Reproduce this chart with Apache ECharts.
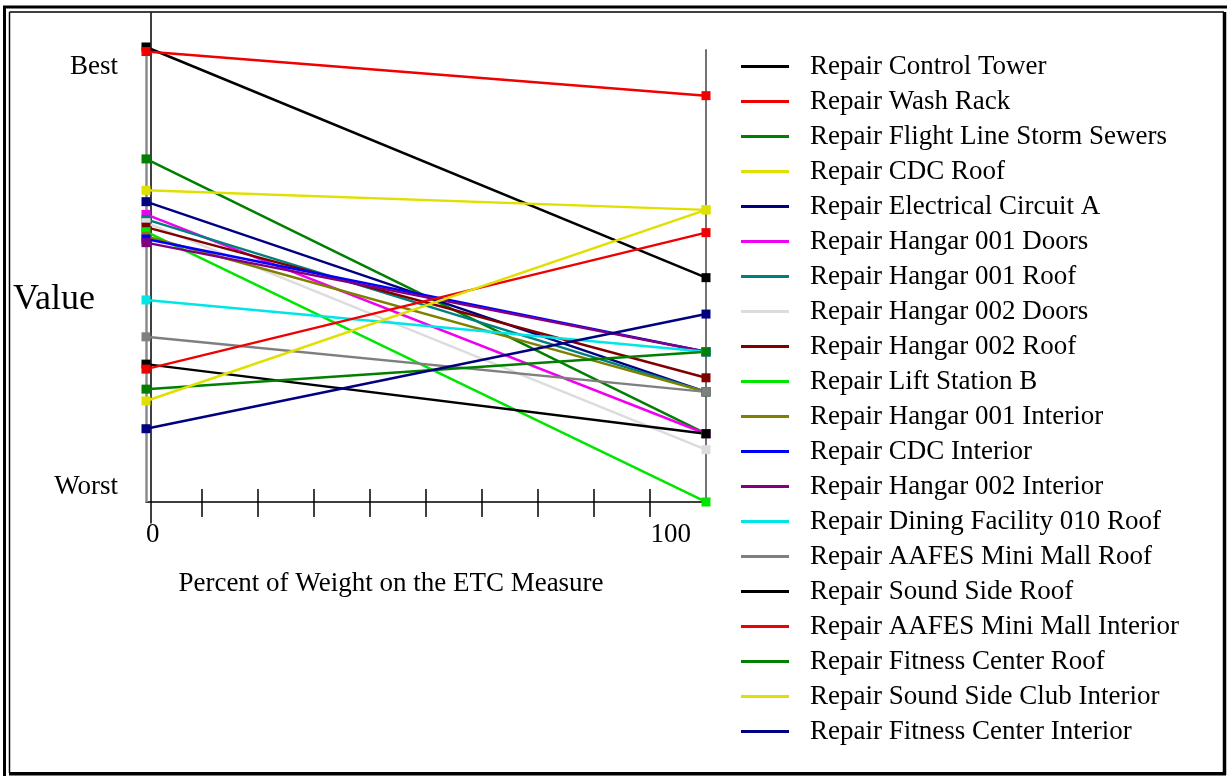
<!DOCTYPE html>
<html>
<head>
<meta charset="utf-8">
<script src="https://cdn.jsdelivr.net/npm/echarts@6/dist/echarts.min.js"></script>
<style>
html,body{margin:0;padding:0;background:#fff;}
#chart{width:1227px;height:776px;}
</style>
</head>
<body>
<div id="chart"></div>
<script>
// ---- data ----
const weights = [0, 100];
const alternatives = [
  'Repair Control Tower',
  'Repair Wash Rack',
  'Repair Flight Line Storm Sewers',
  'Repair CDC Roof',
  'Repair Electrical Circuit A',
  'Repair Hangar 001 Doors',
  'Repair Hangar 001 Roof',
  'Repair Hangar 002 Doors',
  'Repair Hangar 002 Roof',
  'Repair Lift Station B',
  'Repair Hangar 001 Interior',
  'Repair CDC Interior',
  'Repair Hangar 002 Interior',
  'Repair Dining Facility 010 Roof',
  'Repair AAFES Mini Mall Roof',
  'Repair Sound Side Roof',
  'Repair AAFES Mini Mall Interior',
  'Repair Fitness Center Roof',
  'Repair Sound Side Club Interior',
  'Repair Fitness Center Interior'
];
const valueAt0 = [1.000, 0.990, 0.754, 0.685, 0.660, 0.632, 0.621, 0.614, 0.604, 0.594,
                  0.584, 0.578, 0.570, 0.444, 0.363, 0.303, 0.292, 0.248, 0.222, 0.161];
const valueAt100 = [0.493, 0.893, 0.150, 0.642, 0.242, 0.150, 0.242, 0.115, 0.273, 0.000,
                    0.242, 0.330, 0.330, 0.330, 0.242, 0.150, 0.592, 0.330, 0.642, 0.413];
const yTickValues = [0.956, 0.033];
const yTickLabels = ['Best', 'Worst'];
const xTickValues = [10, 20, 30, 40, 50, 60, 70, 80, 90];
const xLabelLow = [0];
const xLabelHigh = [100];

// ---- styles ----
const colors = ['#000000', '#f00000', '#007f00', '#e0e000', '#000080', '#f000f0', '#007f7f',
                '#dcdcdc', '#800000', '#00e600', '#808000', '#0000ff', '#800080', '#00e6e6',
                '#7f7f7f', '#000000', '#f00000', '#007f00', '#e0e000', '#000080'];
const FONT = 'Liberation Serif';
const Y_MIN = -0.0462, Y_MAX = 1.0747;
const ZERO_OFFSET = -21; // moves x axes up onto value 0

const series = [{
  type: 'line', name: '__ref', data: [], silent: true, z: 1,
  markLine: {
    silent: true, z: 1, symbol: ['none', 'none'], label: {show: false},
    animation: false,
    data: [
      [{coord: [0, 0], lineStyle: {color: '#8c8c8c', width: 2.5, type: 'solid'}}, {coord: [0, 1]}],
      [{coord: [100, 0], lineStyle: {color: '#444', width: 1.5, type: 'solid'}}, {coord: [100, 0.995]}]
    ]
  }
}];
alternatives.forEach((name, i) => {
  series.push({
    type: 'line', name: name,
    data: [[weights[0], valueAt0[i]], [weights[1], valueAt100[i]]],
    xAxisIndex: 0,
    clip: false,
    symbol: 'rect', symbolSize: 9, showSymbol: true,
    lineStyle: {width: 2.5, color: colors[i]},
    itemStyle: {color: colors[i]},
    emphasis: {disabled: true},
    animation: false
  });
});

const chart = echarts.init(document.getElementById('chart'), null, {renderer: 'canvas'});
chart.setOption({
  backgroundColor: '#fff',
  animation: false,
  title: {
    text: 'Value', left: 13, top: 282, padding: 0,
    textStyle: {fontFamily: FONT, fontSize: 36, fontWeight: 'normal', color: '#000'}
  },
  legend: {
    orient: 'vertical', left: 741, top: 53, padding: 0,
    data: alternatives,
    icon: 'rect', itemWidth: 48, itemHeight: 3, itemGap: 8,
    selectedMode: false,
    textStyle: {fontFamily: FONT, fontSize: 27, lineHeight: 27, color: '#000', padding: [0, 0, 0, 16]}
  },
  grid: {left: 146, right: 521, top: 13, bottom: 253, outerBoundsMode: 'none', containLabel: false},
  xAxis: [{
    type: 'value', min: 0, max: 100, position: 'bottom', offset: ZERO_OFFSET,
    axisLine: {show: true, onZero: false, lineStyle: {color: '#000', width: 1.5}},
    axisTick: {show: true, inside: true, length: 13, customValues: xTickValues, lineStyle: {color: '#000', width: 1.5}},
    axisLabel: {show: true, customValues: xLabelLow, align: 'left', margin: 19,
      fontFamily: FONT, fontSize: 27, color: '#000'},
    splitLine: {show: false},
    name: 'Percent of Weight on the ETC Measure', nameLocation: 'middle', nameGap: 68,
    nameTextStyle: {fontFamily: FONT, fontSize: 27, color: '#000', padding: [0, 70, 0, 0]}
  }, {
    type: 'value', min: 0, max: 100, position: 'bottom', offset: ZERO_OFFSET,
    axisLine: {show: false, onZero: false},
    axisTick: {show: true, inside: false, length: 15, customValues: xTickValues, lineStyle: {color: '#000', width: 1.5}},
    axisLabel: {show: true, customValues: xLabelHigh, align: 'right', margin: 19, padding: [0, 15, 0, 0],
      fontFamily: FONT, fontSize: 27, color: '#000'},
    splitLine: {show: false}
  }],
  yAxis: {
    type: 'value', min: Y_MIN, max: Y_MAX, offset: -5,
    axisLine: {show: true, onZero: false, lineStyle: {color: '#000', width: 1.5}},
    axisTick: {show: false},
    splitLine: {show: false},
    axisLabel: {
      show: true, customValues: yTickValues, margin: 33,
      formatter: v => yTickLabels[yTickValues.indexOf(v)] || '',
      fontFamily: FONT, fontSize: 27, color: '#000'
    }
  },
  graphic: [
    {type: 'rect', silent: true, shape: {x: 4.5, y: 7, width: 1240, height: 800}, style: {fill: 'none', stroke: '#000', lineWidth: 3}},
    {type: 'line', silent: true, shape: {x1: 9.5, y1: 12, x2: 9.5, y2: 773}, style: {stroke: '#000', lineWidth: 1.5}},
    {type: 'line', silent: true, shape: {x1: 9.5, y1: 12, x2: 1224, y2: 12}, style: {stroke: '#000', lineWidth: 1.5}},
    {type: 'line', silent: true, shape: {x1: 1224.5, y1: 12, x2: 1224.5, y2: 775}, style: {stroke: '#000', lineWidth: 3.5}},
    {type: 'line', silent: true, shape: {x1: 9, y1: 773.8, x2: 1226, y2: 773.8}, style: {stroke: '#000', lineWidth: 3.5}}
  ],
  series: series
});
</script>
</body>
</html>
